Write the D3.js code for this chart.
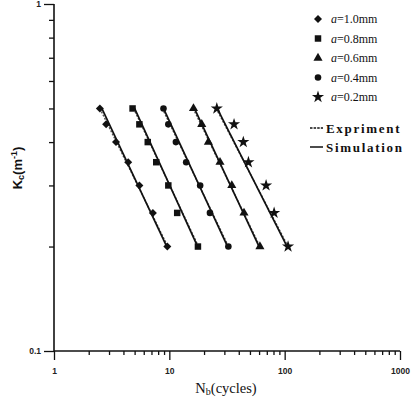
<!DOCTYPE html>
<html lang="en">
<head>
<meta charset="utf-8">
<title>Kc vs Nb</title>
<style>
  body { margin: 0; background: #fff; }
  svg { display: block; }
  .tick text { font-family: "Liberation Sans", Arial, sans-serif; font-size: 8.5px; font-weight: bold; fill: #222; }
  .serif { font-family: "Liberation Serif", "Times New Roman", serif; }
</style>
</head>
<body>
<script src="https://d3js.org/d3.v7.min.js"></script>
<script>
  const W = 412, H = 404;

  // data
  const sizes = ["a=1.0mm", "a=0.8mm", "a=0.6mm", "a=0.4mm", "a=0.2mm"];
  const kValues = [0.5, 0.45, 0.4, 0.35, 0.3, 0.25, 0.2];
  const nCycles = [
    [2.5, 2.83, 3.45, 4.4, 5.5, 7.2, 9.6],
    [4.8, 5.5, 6.5, 7.7, 9.8, 11.7, 17.7],
    [16.2, 19.1, 21.8, 27.5, 34.8, 44.4, 61],
    [8.9, 9.8, 11.4, 14, 18.5, 22.5, 32.5],
    [25.8, 36.4, 43.8, 48.5, 69, 81, 107]
  ];
  // series order in legend: 1.0 diamond, 0.8 square, 0.6 triangle, 0.4 circle, 0.2 star
  const lineK = [0.5, 0.2];
  const simN = [[2.6, 9.5], [5.0, 17.6], [16.5, 60], [8.9, 32], [26, 105]];
  const expN = [[2.5, 9.7], [4.9, 17.9], [16.1, 61], [8.7, 32.6], [25.5, 107]];
  const xMajor = [1, 10, 100, 1000];
  const yMajor = [0.1, 1];

  const svg = d3.select("body").append("svg").attr("width", W).attr("height", H);

  const x = d3.scaleLog().domain([1, 1000]).range([54, 400]);
  const y = d3.scaleLog().domain([0.1, 1]).range([351, 4]);

  const xMinor = [], yMinor = [];
  [1, 10, 100].forEach(d => { for (let i = 2; i <= 9; i++) xMinor.push(d * i); });
  for (let i = 2; i <= 9; i++) yMinor.push(i / 10);

  // axes
  const gx = svg.append("g").attr("transform", "translate(0,351)");
  gx.call(d3.axisBottom(x).tickValues(xMajor).tickSize(9).tickFormat(d3.format("d")));
  gx.append("g").call(d3.axisBottom(x).tickValues(xMinor).tickSize(4).tickFormat(""))
    .select(".domain").remove();
  gx.selectAll(".tick text").attr("dy", "1.25em");

  const gy = svg.append("g").attr("transform", "translate(54,0)");
  gy.call(d3.axisLeft(y).tickValues(yMajor).tickSize(10).tickFormat(d => d === 1 ? "1" : "0.1"));
  gy.append("g").call(d3.axisLeft(y).tickValues(yMinor).tickSize(5).tickFormat(""))
    .select(".domain").remove();

  svg.selectAll(".domain").attr("stroke", "#111").attr("stroke-width", 1.6);
  svg.selectAll(".tick line").attr("stroke", "#111").attr("stroke-width", 1.3);
  gx.select(".domain").attr("d", "M54,0H400");
  gy.select(".domain").attr("d", "M0,4V351");

  // lines
  const line = d3.line().x(d => x(d[0])).y(d => y(d[1]));
  expN.forEach(ns => {
    svg.append("path").attr("d", line(ns.map((n, i) => [n, lineK[i]])))
      .attr("fill", "none").attr("stroke", "#555").attr("stroke-width", 1.4)
      .attr("stroke-dasharray", "2,1.5");
  });
  simN.forEach(ns => {
    svg.append("path").attr("d", line(ns.map((n, i) => [n, lineK[i]])))
      .attr("fill", "none").attr("stroke", "#111").attr("stroke-width", 1.7);
  });

  // markers
  const symbols = [
    { type: d3.symbolSquare, size: 32, rot: 45 },
    { type: d3.symbolSquare, size: 42, rot: 0 },
    { type: d3.symbolTriangle, size: 36, rot: 0 },
    { type: d3.symbolCircle, size: 34, rot: 0 },
    { type: d3.symbolStar, size: 46, rot: 0 }
  ];

  nCycles.forEach((ns, s) => {
    const sym = d3.symbol().type(symbols[s].type).size(symbols[s].size);
    svg.append("g").selectAll("path").data(ns.map((n, i) => [n, kValues[i]])).join("path")
      .attr("d", sym)
      .attr("transform", d => `translate(${x(d[0])},${y(d[1])}) rotate(${symbols[s].rot})`)
      .attr("fill", "#111");
  });

  // legend
  const leg = svg.append("g");
  sizes.forEach((label, s) => {
    const ly = 19 + s * 19.5;
    leg.append("path")
      .attr("d", d3.symbol().type(symbols[s].type).size(symbols[s].size)())
      .attr("transform", `translate(318,${ly}) rotate(${symbols[s].rot})`)
      .attr("fill", "#111");
    const t = leg.append("text").attr("class", "serif").attr("x", 331).attr("y", ly + 4)
      .attr("font-size", 12).attr("fill", "#111");
    t.append("tspan").attr("font-style", "italic").text(label.slice(0, 1));
    t.append("tspan").text(label.slice(1));
  });
  leg.append("line").attr("x1", 310).attr("x2", 323).attr("y1", 128).attr("y2", 128)
    .attr("stroke", "#111").attr("stroke-width", 1.3).attr("stroke-dasharray", "2.5,1.1");
  leg.append("line").attr("x1", 310).attr("x2", 323).attr("y1", 147).attr("y2", 147)
    .attr("stroke", "#111").attr("stroke-width", 1.5);
  leg.append("text").attr("class", "serif").attr("x", 326).attr("y", 132.5)
    .attr("font-size", 13).attr("font-weight", "bold").attr("letter-spacing", 1.7)
    .attr("fill", "#111").text("Expriment");
  leg.append("text").attr("class", "serif").attr("x", 326).attr("y", 151.5)
    .attr("font-size", 13).attr("font-weight", "bold").attr("letter-spacing", 1.7)
    .attr("fill", "#111").text("Simulation");

  // axis labels
  const xl = svg.append("text").attr("class", "serif").attr("x", 226).attr("y", 393)
    .attr("text-anchor", "middle").attr("font-size", 14.5).attr("fill", "#111");
  xl.append("tspan").text("N");
  xl.append("tspan").attr("font-size", 10).attr("dy", 2).text("b");
  xl.append("tspan").attr("dy", -2).text("(cycles)");

  const yl = svg.append("text").attr("transform", "translate(22,168) rotate(-90)")
    .attr("text-anchor", "middle").attr("font-family", "'Liberation Sans', Arial, sans-serif")
    .attr("font-size", 13).attr("font-weight", "bold").attr("fill", "#111");
  yl.append("tspan").text("K");
  yl.append("tspan").attr("font-size", 9).attr("dy", 2).text("c");
  yl.append("tspan").attr("dy", -2).text("(m");
  yl.append("tspan").attr("font-size", 9).attr("dy", -5).text("-1");
  yl.append("tspan").attr("dy", 5).text(")");
</script>
</body>
</html>
